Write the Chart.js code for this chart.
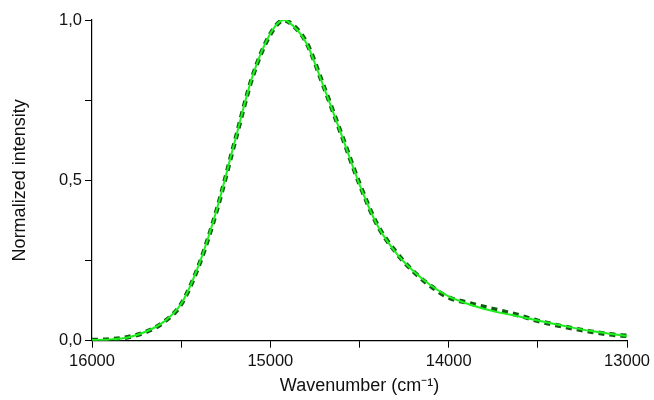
<!DOCTYPE html>
<html>
<head>
<meta charset="utf-8">
<script src="https://cdn.jsdelivr.net/npm/chart.js@4"></script>
<style>
  html, body { margin: 0; padding: 0; background: #fff; }
  #wrap { width: 654px; height: 400px; }
</style>
</head>
<body>
<div id="wrap"><canvas id="spectrum" width="654" height="400"></canvas></div>
<script>
// wavenumbers (cm-1) and normalized intensity
const wavenumbers = [16000, 15900, 15800, 15700, 15600, 15500, 15400, 15300, 15200, 15100,
                     15000, 14925, 14900, 14800, 14700, 14600, 14500, 14400, 14300, 14200, 14100,
                     14000, 13900, 13800, 13700, 13600, 13500, 13400, 13300, 13200, 13100, 13000];
const fitted = [0.002, 0.004, 0.010, 0.028, 0.058, 0.115, 0.238, 0.410, 0.620, 0.825,
                0.958, 1.000, 0.995, 0.930, 0.790, 0.640, 0.487, 0.360, 0.277, 0.218, 0.172,
                0.138, 0.116, 0.099, 0.086, 0.075, 0.063, 0.051, 0.040, 0.030, 0.022, 0.015];
const measured = [0.002, 0.004, 0.011, 0.027, 0.057, 0.114, 0.236, 0.408, 0.618, 0.823,
                  0.956, 0.999, 0.995, 0.932, 0.792, 0.641, 0.489, 0.361, 0.279, 0.217, 0.170,
                  0.135, 0.119, 0.105, 0.092, 0.078, 0.062, 0.049, 0.038, 0.028, 0.020, 0.015];
const xTicks = [16000, 15500, 15000, 14500, 14000, 13500, 13000];
const yTicks = [0, 0.25, 0.5, 0.75, 1.0];

const FONT = "'Liberation Sans', Arial, sans-serif";

function toPoints(values) {
    return wavenumbers.map((w, i) => ({ x: w, y: values[i] }));
}

new Chart(document.getElementById('spectrum'), {
    type: 'line',
    data: {
        datasets: [
            {
                label: 'fit',
                data: toPoints(fitted),
                borderColor: '#1cf01c',
                borderWidth: 2,
                pointRadius: 0,
                cubicInterpolationMode: 'monotone',
                fill: false
            },
            {
                label: 'measured',
                data: toPoints(measured),
                borderColor: '#0f5c0f',
                borderWidth: 4.5,
                borderDash: [6, 5],
                pointRadius: 0,
                cubicInterpolationMode: 'monotone',
                fill: false
            }
        ]
    },
    options: {
        responsive: false,
        animation: false,
        layout: { padding: { left: 0, right: 17.5, top: 20, bottom: 0 } },
        plugins: { legend: { display: false }, tooltip: { enabled: false } },
        scales: {
            x: {
                type: 'linear',
                reverse: true,
                min: 13000,
                max: 16000,
                afterBuildTicks: (scale) => { scale.ticks = xTicks.map(v => ({ value: v })); },
                afterFit: (scale) => { scale.height = 59.3; },
                grid: { drawOnChartArea: false, drawTicks: true, tickLength: 7, color: '#000', tickWidth: 1 },
                border: { color: '#000', width: 1.2 },
                ticks: {
                    color: '#111',
                    font: { family: FONT, size: 16.5 },
                    padding: 4,
                    maxRotation: 0,
                    callback: (v) => (v % 1000 === 0 ? String(v) : '')
                },
                title: {
                    display: true,
                    text: 'Wavenumber (cm⁻¹)',
                    color: '#111',
                    font: { family: FONT, size: 18 },
                    padding: { top: 1, bottom: 3 }
                }
            },
            y: {
                type: 'linear',
                min: 0,
                max: 1,
                afterBuildTicks: (scale) => { scale.ticks = yTicks.map(v => ({ value: v })); },
                afterFit: (scale) => { scale.width = 92; },
                grid: { drawOnChartArea: false, drawTicks: true, tickLength: 7, color: '#000', tickWidth: 1 },
                border: { color: '#000', width: 1.2 },
                ticks: {
                    color: '#111',
                    font: { family: FONT, size: 16.5 },
                    padding: 3,
                    callback: (v) => (v % 0.5 === 0 ? v.toFixed(1).replace('.', ',') : '')
                },
                title: {
                    display: true,
                    text: 'Normalized intensity',
                    color: '#111',
                    font: { family: FONT, size: 18 },
                    padding: { top: 9, bottom: 0 }
                }
            }
        }
    }
});
</script>
</body>
</html>
